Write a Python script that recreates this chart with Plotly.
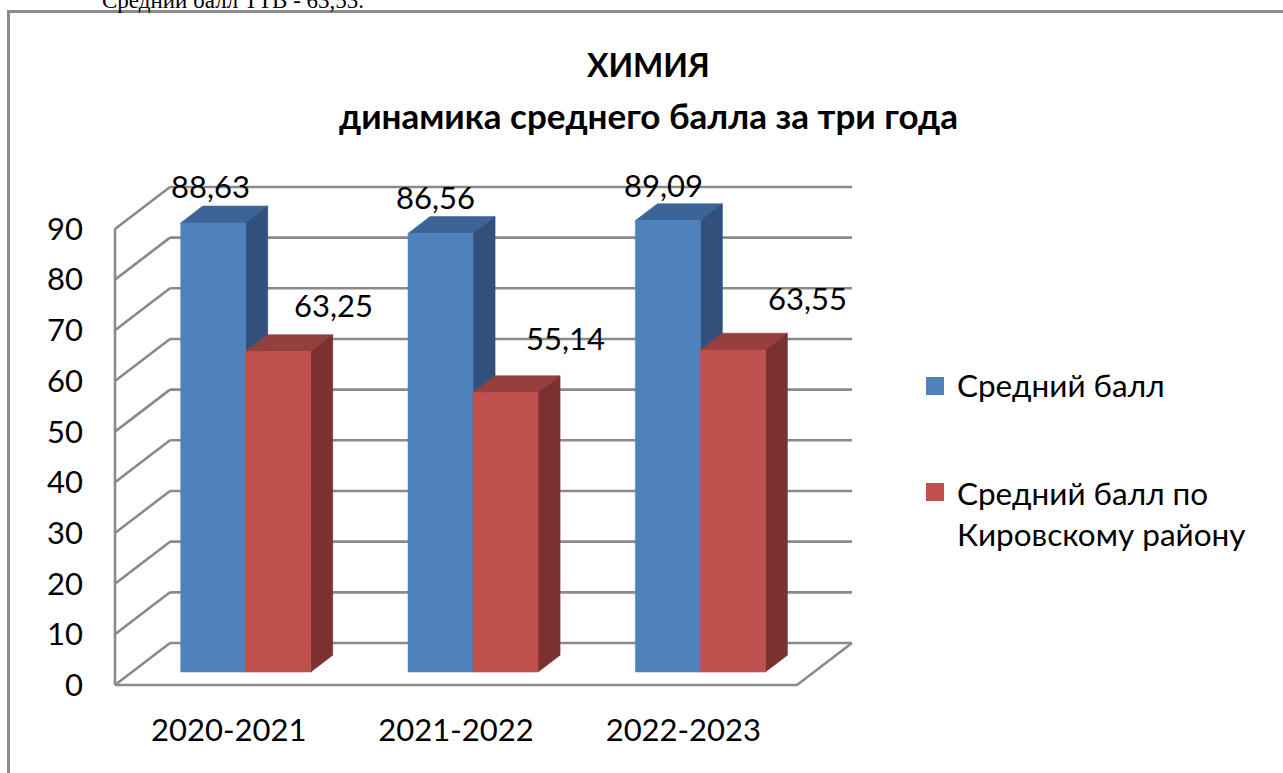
import plotly.graph_objects as go

# ---- data -------------------------------------------------------------
categories = ["2020-2021", "2021-2022", "2022-2023"]
series_names = ["Средний балл", "Средний балл по<br>Кировскому району"]
avg_score = [88.63, 86.56, 89.09]
district_score = [63.25, 55.14, 63.55]
y_ticks = [0, 10, 20, 30, 40, 50, 60, 70, 80, 90]
title_lines = ["ХИМИЯ", "динамика среднего балла за три года"]
note_text = "Средний балл ТТВ - 63,53."

# ---- canvas / axis scale ---------------------------------------------
W, H = 1283, 773
ML, MB = 100, 80
PX_PER_CAT = 227.33          # pixels per category on the front edge
PX_PER_PT = 5.067            # pixels per score point
ORIGIN_PX = (115, 685)       # front-left corner of the floor

x_range = [-(ORIGIN_PX[0] - ML) / PX_PER_CAT, (W - ORIGIN_PX[0]) / PX_PER_CAT]
y_range = [-(H - MB - ORIGIN_PX[1]) / PX_PER_PT, ORIGIN_PX[1] / PX_PER_PT]

# oblique depth of the 3-D box (in axis units)
DEPTH_X = 55 / PX_PER_CAT
DEPTH_Y = 42 / PX_PER_PT
BAR_W = 65 / PX_PER_CAT
BAR_D0, BAR_D1 = 0.31, 0.71

FONT = "Lato, 'Noto Sans', sans-serif"
GRID = "#8a8a8a"

COLORS = [
    dict(front="#4F81BD", top="#3D6497", side="#31507C"),
    dict(front="#C0504D", top="#95403D", side="#7B3130"),
]


def proj(x, v, d):
    """Project a point (category x, value v, depth d) onto the 2-D axes."""
    return x + d * DEPTH_X, v + d * DEPTH_Y


def px_to_paper(px, py):
    return (px - ML) / (W - ML), (H - MB - py) / (H - MB)


fig = go.Figure()

# ---- walls and floor --------------------------------------------------
n = len(categories)
top_v = max(y_ticks)
lx, ly = [], []
# front vertical axis
lx += [0, 0, None]
ly += [0, top_v, None]
for v in y_ticks:
    # left wall diagonal
    bx, by = proj(0, v, 1)
    lx += [0, bx, None]
    ly += [v, by, None]
    # back wall gridline
    ex, ey = proj(n, v, 1)
    lx += [bx, ex, None]
    ly += [by, ey, None]
# floor front edge and right edge
fx, fy = proj(n, 0, 1)
lx += [0, n, fx, None]
ly += [0, 0, fy, None]
fig.add_trace(go.Scatter(x=lx, y=ly, mode="lines",
                         line=dict(color=GRID, width=2.6),
                         hoverinfo="skip", showlegend=False))


def face(points, color):
    xs = [p[0] for p in points] + [points[0][0]]
    ys = [p[1] for p in points] + [points[0][1]]
    fig.add_trace(go.Scatter(x=xs, y=ys, mode="lines", fill="toself",
                             fillcolor=color, line=dict(color=color, width=0.6),
                             hoverinfo="skip", showlegend=False))


# ---- 3-D bars ----------------------------------------------------------
for i in range(n):
    for s, values in enumerate([avg_score, district_score]):
        v = values[i]
        c = COLORS[s]
        x0 = i + 0.5 - BAR_W + s * BAR_W
        x1 = x0 + BAR_W
        # top face
        face([proj(x0, v, BAR_D0), proj(x1, v, BAR_D0),
              proj(x1, v, BAR_D1), proj(x0, v, BAR_D1)], c["top"])
        # right side face
        face([proj(x1, 0, BAR_D0), proj(x1, 0, BAR_D1),
              proj(x1, v, BAR_D1), proj(x1, v, BAR_D0)], c["side"])
        # front face
        face([proj(x0, 0, BAR_D0), proj(x1, 0, BAR_D0),
              proj(x1, v, BAR_D0), proj(x0, v, BAR_D0)], c["front"])

# ---- value labels (offsets in pixels from the bar's front-top centre) --
label_offsets = [
    [(-3, -37), (55, -46)],
    [(-5, -36), (60, -55)],
    [(-4, -36), (75, -52)],
]
for i in range(n):
    for s, values in enumerate([avg_score, district_score]):
        v = values[i]
        cx, cy = proj(i + 0.5 - BAR_W / 2 + s * BAR_W, v, BAR_D0)
        ox, oy = label_offsets[i][s]
        fig.add_annotation(x=cx + ox / PX_PER_CAT, y=cy - oy / PX_PER_PT,
                           text=f"{v:.2f}".replace(".", ","), showarrow=False,
                           xanchor="center", yanchor="middle",
                           font=dict(family=FONT, size=31, color="#000000"))

# ---- title -------------------------------------------------------------
for text, py, size in zip(title_lines, [65, 115], [32, 35]):
    tx, ty = px_to_paper(648, py)
    fig.add_annotation(xref="paper", yref="paper", x=tx, y=ty,
                       text=f"<b>{text}</b>", showarrow=False,
                       xanchor="center", yanchor="middle",
                       font=dict(family=FONT, size=size, color="#000000"))

# ---- legend ------------------------------------------------------------
for s, (name, py) in enumerate(zip(series_names, [385, 513])):
    sx0, sy0 = px_to_paper(926, [377, 483][s])
    sx1, sy1 = px_to_paper(944, [395, 501][s])
    fig.add_shape(type="rect", xref="paper", yref="paper",
                  x0=sx0, x1=sx1, y0=sy1, y1=sy0,
                  fillcolor=COLORS[s]["front"], line=dict(width=0))
    tx, ty = px_to_paper(955, py)
    fig.add_annotation(xref="paper", yref="paper", x=tx, y=ty, text=name,
                       showarrow=False, xanchor="left", yanchor="middle",
                       align="left",
                       font=dict(family=FONT, size=31.5, color="#000000"))

# ---- surrounding frame and clipped line of text above it ---------------
bx0, by0 = px_to_paper(8.5, 11.5)
bx1, by1 = px_to_paper(W + 20, H + 20)
fig.add_shape(type="rect", xref="paper", yref="paper",
              x0=bx0, y0=by1, x1=bx1, y1=by0,
              line=dict(color="#8c8c8c", width=3), fillcolor="rgba(0,0,0,0)")
nx, ny = px_to_paper(100, 0)
fig.add_annotation(xref="paper", yref="paper", x=nx, y=ny, text=note_text,
                   showarrow=False, xanchor="left", yanchor="middle",
                   font=dict(family="'Liberation Serif', serif", size=23,
                             color="#000000"))

fig.update_layout(
    width=W, height=H,
    margin=dict(l=ML, r=0, t=0, b=MB, pad=0),
    paper_bgcolor="white", plot_bgcolor="white",
    showlegend=False,
    xaxis=dict(range=x_range, showgrid=False, zeroline=False, showline=False,
               tickmode="array", tickvals=[i + 0.5 for i in range(n)],
               ticktext=categories, ticks="", ticklabelstandoff=16,
               tickfont=dict(family=FONT, size=31, color="#000000"),
               fixedrange=True),
    yaxis=dict(range=y_range, showgrid=False, zeroline=False, showline=False,
               tickmode="array", tickvals=y_ticks,
               ticktext=[str(t) for t in y_ticks], ticks="",
               ticklabelstandoff=16,
               tickfont=dict(family=FONT, size=31, color="#000000"),
               fixedrange=True),
)

fig.write_html("out.html")
